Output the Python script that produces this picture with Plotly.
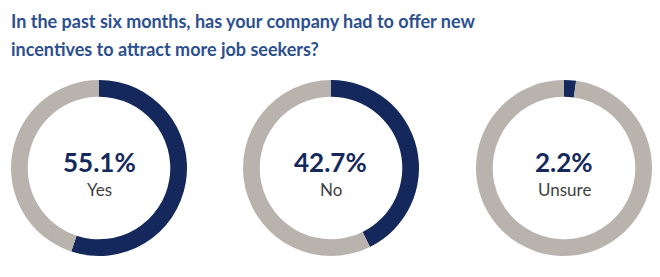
import plotly.graph_objects as go

W, H = 660, 277

title_lines = ["In the past six months, has your company had to offer new",
               "incentives to attract more job seekers?"]
categories = ["Yes", "No", "Unsure"]
percents = [55.1, 42.7, 2.2]

navy = "#14285c"
grey = "#b9b3ae"
title_color = "#2c4f8f"

centers_x = [99, 331, 564]
center_y = 168
radius = 88

fig = go.Figure()
for i, (cat, p) in enumerate(zip(categories, percents)):
    cx = centers_x[i]
    fig.add_trace(go.Pie(
        values=[p, 100 - p],
        labels=[cat, "Other"],
        hole=0.81,
        sort=False,
        direction="clockwise",
        rotation=0,
        textinfo="none",
        hoverinfo="skip",
        showlegend=False,
        marker=dict(colors=[navy, grey], line=dict(width=0)),
        domain=dict(x=[(cx - radius) / W, (cx + radius) / W],
                    y=[1 - (center_y + radius) / H, 1 - (center_y - radius) / H]),
    ))
    fig.add_annotation(x=cx / W, y=1 - 162 / H, xref="paper", yref="paper",
                       text=f"{p}%", showarrow=False, xanchor="center", yanchor="middle",
                       font=dict(family="Lato", size=26, color=navy, weight=700))
    fig.add_annotation(x=cx / W, y=1 - 189 / H, xref="paper", yref="paper",
                       text=cat, showarrow=False, xanchor="center", yanchor="middle",
                       font=dict(family="Lato", size=17, color="#3f3f3f"))

for j, line in enumerate(title_lines):
    fig.add_annotation(x=9 / W, y=1 - (34 + 28 * j) / H, xref="paper", yref="paper",
                       text=line, showarrow=False, xanchor="left", yanchor="bottom",
                       font=dict(family="Lato", size=18, color=title_color, weight=700))

fig.update_layout(width=W, height=H, margin=dict(l=0, r=0, t=0, b=0),
                  paper_bgcolor="white", plot_bgcolor="white")
fig.write_html("out.html")
